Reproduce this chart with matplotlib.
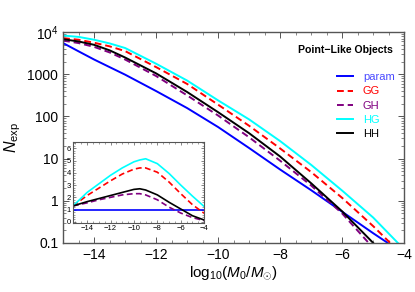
import numpy as np
import matplotlib
matplotlib.use("Agg")
import matplotlib.pyplot as plt
from matplotlib.ticker import MultipleLocator, LogLocator, FixedLocator, FixedFormatter, NullFormatter

plt.rcParams['font.family'] = ['Liberation Sans', 'DejaVu Sans']
plt.rcParams['mathtext.fontset'] = 'custom'
plt.rcParams['mathtext.rm'] = 'Liberation Sans'
plt.rcParams['mathtext.it'] = 'Liberation Sans:italic'

# main panel: log10(M0/Msun) vs N_exp
x_main = [-15, -14.5, -14, -13.5, -13, -12, -11, -10, -9, -8, -7, -6, -5, -4]
n_param = [5500, 3500, 2240, 1480, 980, 400, 158, 56, 17.8, 5.5, 1.78, 0.55, 0.17, 0.055]
n_gg = [7200, 6600, 5600, 4600, 3550, 1480, 590, 190, 60, 17.4, 4.8, 1.17, 0.25, 0.047]
n_gh = [6300, 5500, 4470, 3300, 2240, 910, 316, 105, 32, 8.9, 2.3, 0.5, 0.076, 0.012]
n_hg = [8300, 7700, 6600, 5400, 4200, 1780, 710, 240, 85, 26, 7.1, 1.74, 0.40, 0.07]
n_hh = [6800, 6000, 5000, 3700, 2500, 1050, 380, 126, 40, 11.2, 2.6, 0.56, 0.1, 0.015]

# inset: ratios
x_ins = [-15.2, -14, -13, -12, -11, -10, -9.5, -9, -8, -7, -6, -5, -4]
r_param = [1, 1, 1, 1, 1, 1, 1, 1, 1, 1, 1, 1, 1]
r_gg = [1.3, 2.15, 2.75, 3.35, 3.9, 4.3, 4.4, 4.4, 4.05, 3.25, 2.3, 1.4, 0.7]
r_gh = [1.3, 1.55, 1.8, 2.0, 2.2, 2.3, 2.3, 2.2, 1.8, 1.2, 0.72, 0.35, 0.1]
r_hg = [1.3, 2.4, 3.1, 3.8, 4.4, 4.9, 5.05, 5.15, 4.75, 3.95, 3.0, 2.1, 1.25]
r_hh = [1.3, 1.65, 1.9, 2.15, 2.4, 2.65, 2.7, 2.6, 2.2, 1.6, 1.05, 0.5, 0.15]

labels = ['param', 'GG', 'GH', 'HG', 'HH']
colors = ['#0000ff', '#ff0000', '#800080', '#00ffff', '#000000']
text_colors = ['#4a4aff', '#ff0000', '#800080', '#00ffff', '#000000']
styles = ['-', (0, (3.5, 2)), (0, (3.5, 2)), '-', '-']

fig = plt.figure(figsize=(4.15, 2.92), dpi=100)
ax = fig.add_axes([0.152, 0.168, 0.822, 0.722])

for y, c, ls, lab in zip([n_param, n_gg, n_gh, n_hg, n_hh], colors, styles, labels):
    ax.plot(x_main, y, color=c, ls=ls, lw=1.4, label=lab)

ax.set_yscale('log')
ax.set_xlim(-15, -4)
ax.set_ylim(0.1, 1e4)
ax.xaxis.set_major_locator(MultipleLocator(2))
ax.xaxis.set_minor_locator(MultipleLocator(0.5))
ax.yaxis.set_major_locator(FixedLocator([0.1, 1, 10, 100, 1000, 1e4]))
ax.yaxis.set_major_formatter(FixedFormatter(['0.1', '1', '10', '100', '1000', '10$^4$']))
ax.yaxis.set_minor_locator(LogLocator(base=10, subs=np.arange(2, 10)))
ax.yaxis.set_minor_formatter(NullFormatter())
ax.xaxis.set_major_formatter(matplotlib.ticker.FuncFormatter(lambda v, p: '\u2212%d' % abs(v) if v < 0 else '%d' % v))
ax.tick_params(which='both', direction='in', top=True, right=True, labelsize=10, color='#555555')
ax.tick_params(which='major', length=4, width=0.7)
ax.tick_params(which='minor', length=2, width=0.5)
for s in ax.spines.values():
    s.set_color('#555555')
    s.set_linewidth(1.0)

ax.set_xlabel(r'log$_{10}$($M_0$/$M_{\odot}$)', fontsize=11, labelpad=2)
ax.set_ylabel(r'$N_{\rm exp}$', fontsize=11.5, labelpad=3)

ax.text(0.968, 0.915, 'Point\u2212Like Objects', transform=ax.transAxes, ha='right', va='center',
        fontsize=7.6, fontweight='bold')
leg = ax.legend(loc='upper right', bbox_to_anchor=(0.972, 0.81), frameon=False, fontsize=8,
                handlelength=1.45, handletextpad=0.9, labelspacing=0.38, borderpad=0, borderaxespad=0)
for t, c in zip(leg.get_texts(), text_colors):
    t.set_color(c)

# inset
ins = fig.add_axes([0.176, 0.236, 0.316, 0.277])
for y, c, ls in zip([r_param, r_gg, r_gh, r_hg, r_hh], colors, styles):
    ins.plot(x_ins, y, color=c, ls=ls, lw=1.2)
ins.set_xlim(-15.2, -4)
ins.set_ylim(-0.1, 6.5)
ins.xaxis.set_major_locator(MultipleLocator(2))
ins.xaxis.set_minor_locator(MultipleLocator(0.5))
ins.yaxis.set_major_locator(MultipleLocator(1))
ins.yaxis.set_minor_locator(MultipleLocator(0.2))
ins.xaxis.set_major_formatter(matplotlib.ticker.FuncFormatter(lambda v, p: '\u2212%d' % abs(v) if v < 0 else '%d' % v))
ins.tick_params(which='both', direction='in', top=True, right=True, labelsize=5.5, pad=1.5, color='#555555')
ins.tick_params(which='major', length=2.5, width=0.5)
ins.tick_params(which='minor', length=1.2, width=0.4)
for s in ins.spines.values():
    s.set_color('#555555')
    s.set_linewidth(0.8)

fig.savefig('out.png', dpi=100)
